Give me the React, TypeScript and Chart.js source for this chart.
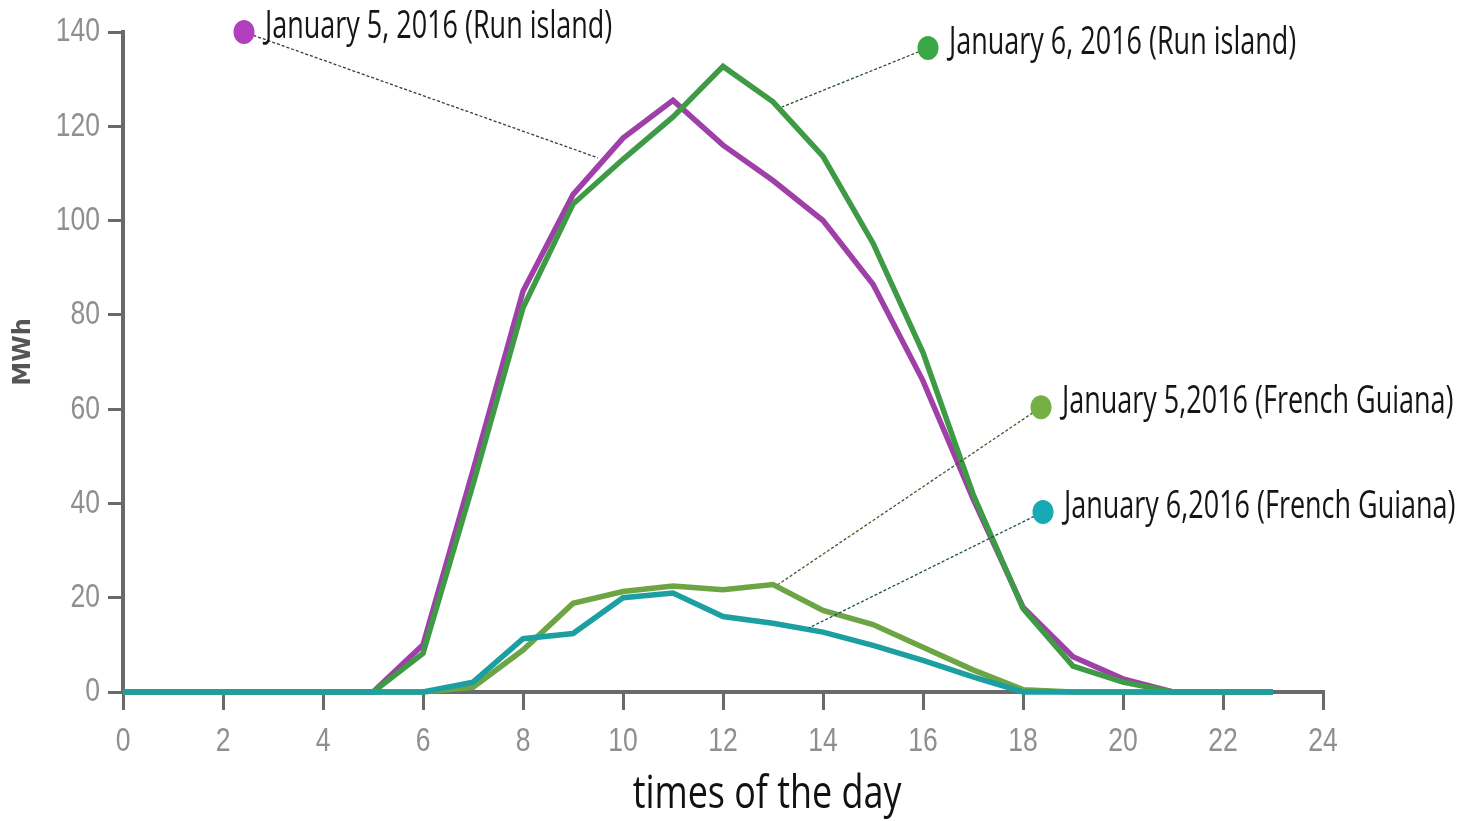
import React, { useEffect, useRef } from "react";
import { Chart, registerables } from "chart.js";

Chart.register(...registerables);

const hours = [0, 1, 2, 3, 4, 5, 6, 7, 8, 9, 10, 11, 12, 13, 14, 15, 16, 17, 18, 19, 20, 21, 22, 23];
const runJan5 = [0, 0, 0, 0, 0, 0, 10, 47, 85, 105.5, 117.5, 125.5, 116, 108.5, 100, 86.5, 66, 41, 18, 7.5, 2.8, 0, 0, 0];
const runJan6 = [0, 0, 0, 0, 0, 0, 8.2, 44, 81.5, 103.5, 113, 122, 132.7, 125.2, 113.6, 95.2, 72, 42, 17.7, 5.5, 2.1, 0, 0, 0];
const guianaJan5 = [0, 0, 0, 0, 0, 0, 0, 1, 8.9, 18.8, 21.3, 22.5, 21.7, 22.8, 17.3, 14.3, 9.5, 4.7, 0.5, 0, 0, 0, 0, 0];
const guianaJan6 = [0, 0, 0, 0, 0, 0, 0, 2.1, 11.3, 12.4, 20, 21, 16, 14.6, 12.7, 9.9, 6.7, 3.2, 0, 0, 0, 0, 0, 0];

const seriesLabels = [
  "January 5, 2016 (Run island)",
  "January 6, 2016 (Run island)",
  "January 5,2016 (French Guiana)",
  "January 6,2016 (French Guiana)",
];
const lineColors = ["#9e40a8", "#3f9a46", "#6ea544", "#1b9fa0"];
const dotColors = ["#b13fc0", "#3aa844", "#74b044", "#16aab4"];
const leaderColors = ["#4a2f4e", "#264f2b", "#3d5a2b", "#1a4f55"];

// label dot positions and leader end points, in data coordinates
const dotX = [2.42, 16.1, 18.36, 18.4];
const dotY = [140, 136.6, 60.4, 38.2];
const leaderEndX = [9.5, 13.18, 13.1, 13.72];
const leaderEndY = [113.3, 124.1, 22.8, 13.6];

const xTicks = [0, 2, 4, 6, 8, 10, 12, 14, 16, 18, 20, 22, 24];
const yTicks = [0, 20, 40, 60, 80, 100, 120, 140];
const xTitle = "times of the day";
const yTitle = "MWh";

const tickFont = '"Liberation Sans", Arial, sans-serif';
const textFont = '"Open Sans", sans-serif';

function toPoints(vals: number[]) {
  return hours.map((h, i) => ({ x: h, y: vals[i] }));
}

function condensedText(ctx: any, text: string, x: number, y: number, font: string, sx: number, align: string, color: string) {
  ctx.save();
  ctx.translate(x, y);
  ctx.scale(sx, 1);
  ctx.font = font;
  ctx.fillStyle = color;
  ctx.textBaseline = "middle";
  ctx.textAlign = align;
  ctx.fillText(text, 0, 0);
  ctx.restore();
}

const annotationPlugin = {
  id: "annotations",
  afterDatasetsDraw(chart: any) {
    const ctx = chart.ctx;
    const xs = chart.scales.x;
    const ys = chart.scales.y;
    const ca = chart.chartArea;
    ctx.save();
    // tick labels
    xTicks.forEach((v) => {
      condensedText(ctx, String(v), xs.getPixelForValue(v), 742, "34px " + tickFont, 0.78, "center", "#8f8f8f");
    });
    yTicks.forEach((v) => {
      condensedText(ctx, String(v), ca.left - 23, ys.getPixelForValue(v), "34px " + tickFont, 0.78, "right", "#8f8f8f");
    });
    for (let i = 0; i < seriesLabels.length; i++) {
      const dx = xs.getPixelForValue(dotX[i]);
      const dy = ys.getPixelForValue(dotY[i]);
      const ex = xs.getPixelForValue(leaderEndX[i]);
      const ey = ys.getPixelForValue(leaderEndY[i]);
      ctx.beginPath();
      ctx.setLineDash([3, 2]);
      ctx.lineWidth = 1.3;
      ctx.strokeStyle = leaderColors[i];
      ctx.moveTo(dx, dy);
      ctx.lineTo(ex, ey);
      ctx.stroke();
      ctx.setLineDash([]);
      ctx.beginPath();
      ctx.fillStyle = dotColors[i];
      ctx.ellipse(dx, dy, 10.5, 12, 0, 0, Math.PI * 2);
      ctx.fill();
      condensedText(ctx, seriesLabels[i], dx + 21, dy - 5, "38px " + textFont, 0.71, "left", "#151515");
    }
    // x title
    condensedText(ctx, xTitle, (ca.left + ca.right) / 2 + 44, 795, "46px " + textFont, 0.78, "center", "#111");
    // y title
    ctx.save();
    ctx.translate(24, 352);
    ctx.rotate(-Math.PI / 2);
    ctx.font = 'bold 24px "DejaVu Sans", sans-serif';
    ctx.fillStyle = "#555";
    ctx.textBaseline = "middle";
    ctx.textAlign = "center";
    ctx.fillText(yTitle, 0, 0);
    ctx.restore();
    ctx.restore();
  },
};

export default function App() {
  const ref = useRef<HTMLCanvasElement | null>(null);
  useEffect(() => {
    if (!ref.current) return;
    const all = [runJan5, runJan6, guianaJan5, guianaJan6];
    const orders = [3, 2, 1, 0];
    const chart = new Chart(ref.current, {
      type: "line",
      data: {
        datasets: all.map((vals, i) => ({
          label: seriesLabels[i],
          data: toPoints(vals),
          borderColor: lineColors[i],
          backgroundColor: lineColors[i],
          borderWidth: 5.5,
          pointRadius: 0,
          tension: 0,
          fill: false,
          clip: false as any,
          order: orders[i],
        })),
      },
      options: {
        animation: false,
        responsive: false,
        maintainAspectRatio: false,
        layout: { padding: { top: 32, right: 139, left: 0, bottom: 0 } },
        plugins: { legend: { display: false }, tooltip: { enabled: false } },
        scales: {
          x: {
            type: "linear",
            min: 0,
            max: 24,
            afterBuildTicks: (s: any) => {
              s.ticks = xTicks.map((v) => ({ value: v }));
            },
            afterFit: (s: any) => {
              s.height = 129;
            },
            ticks: { display: false },
            grid: {
              drawOnChartArea: false,
              drawTicks: true,
              tickLength: 18,
              color: "#6a6a6a",
              lineWidth: 3,
            },
            border: { display: true, color: "#6a6a6a", width: 4 },
          },
          y: {
            type: "linear",
            min: 0,
            max: 140,
            afterBuildTicks: (s: any) => {
              s.ticks = yTicks.map((v) => ({ value: v }));
            },
            afterFit: (s: any) => {
              s.width = 123;
            },
            ticks: { display: false },
            grid: {
              drawOnChartArea: false,
              drawTicks: true,
              tickLength: 15,
              color: "#6a6a6a",
              lineWidth: 3,
            },
            border: { display: true, color: "#6a6a6a", width: 4 },
          },
        },
      },
      plugins: [annotationPlugin],
    });
    return () => chart.destroy();
  }, []);
  return (
    <div style={{ position: "fixed", left: 0, top: 0, width: 1462, height: 821, background: "#fff" }}>
      <canvas ref={ref} width={1462} height={821} style={{ width: 1462, height: 821, display: "block" }} />
    </div>
  );
}
